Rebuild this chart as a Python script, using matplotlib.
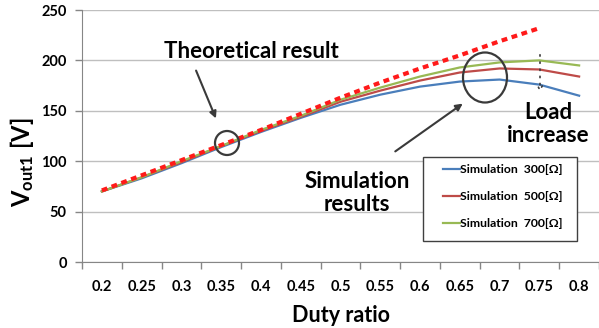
import matplotlib
matplotlib.use("Agg")
import matplotlib.pyplot as plt
from matplotlib.patches import Ellipse, Rectangle

duty = ["0.2", "0.25", "0.3", "0.35", "0.4", "0.45", "0.5", "0.55", "0.6", "0.65", "0.7", "0.75", "0.8"]
theory = [71, 86, 101, 116, 131, 147, 163, 178, 192, 205, 219, 232]
sim300 = [70, 83, 98, 114, 129, 143, 156, 166, 174, 179, 181, 176, 165]
sim500 = [70, 84, 99, 115, 130, 144, 159, 170, 180, 188, 192, 191, 184]
sim700 = [70, 84, 100, 115, 131, 145, 161, 173, 184, 193, 198, 200, 195]
yticks = [0, 50, 100, 150, 200, 250]

FONT = "Lato"
plt.rcParams['font.family'] = [FONT, 'DejaVu Sans']
plt.rcParams['mathtext.fontset'] = 'custom'
plt.rcParams['mathtext.rm'] = FONT + ':bold'
plt.rcParams['mathtext.it'] = FONT + ':bold'
plt.rcParams['mathtext.bf'] = FONT + ':bold'

W, H = 599, 328
fig = plt.figure(figsize=(W / 100, H / 100), dpi=100)
ax = fig.add_axes([82 / W, 1 - 262 / H, (599 - 82) / W, (262 - 10) / H])

x = list(range(len(duty)))
c_blue, c_red, c_green = "#4a7ebb", "#be4b48", "#98b954"
ax.plot(x, sim300, color=c_blue, lw=1.6, label="Simulation  300[Ω]", zorder=3)
ax.plot(x, sim500, color=c_red, lw=1.6, label="Simulation  500[Ω]", zorder=3)
ax.plot(x, sim700, color=c_green, lw=1.6, label="Simulation  700[Ω]", zorder=3)
ax.plot(x[:len(theory)], theory, color="#ff1a1a", lw=3, ls=(0, (1.4, 1.1)), zorder=4)

ax.set_xlim(-0.5, len(duty) - 0.5)
ax.set_ylim(0, 250)
ax.set_yticks(yticks)
ax.set_xticks(x)
ax.set_xticklabels(duty)
ax.set_xticks([i - 0.5 for i in range(len(duty) + 1)], minor=True)
ax.tick_params(axis='x', which='major', length=0, pad=13, labelsize=10.5)
ax.tick_params(axis='x', which='minor', length=5, color="#868686", width=1)
ax.tick_params(axis='y', length=5, color="#868686", width=1, pad=6, labelsize=10.5)
for lab in ax.get_xticklabels() + ax.get_yticklabels():
    lab.set_fontweight('bold')
ax.grid(axis='y', color="#bfbfbf", lw=1)
ax.set_axisbelow(True)
for s in ['top', 'right']:
    ax.spines[s].set_visible(False)
ax.spines['left'].set_color("#868686")
ax.spines['bottom'].set_color("#868686")

ax.set_xlabel("Duty ratio", fontsize=15.5, fontweight='bold', labelpad=8)
fig.text(22 / W, 1 - 162 / H, r"$\rm V_{out1}\ [V]$", rotation=90, fontsize=17,
         ha='center', va='center')

def fx(px):
    return px / W
def fy(py):
    return 1 - py / H

dark = "#3a3a3a"
fig.text(fx(251), fy(52), "Theoretical result", fontsize=16, fontweight='bold',
         ha='center', va='center')
fig.text(fx(357), fy(193), "Simulation\nresults", fontsize=16, fontweight='bold',
         ha='center', va='center', linespacing=1.15)
fig.text(fx(548), fy(124), "Load\nincrease", fontsize=16, fontweight='bold',
         ha='center', va='center', linespacing=1.15)

fig.patches.append(Ellipse((fx(227), fy(143)), 24 / W, 24 / H, transform=fig.transFigure,
                           fill=False, ec=dark, lw=1.6))
fig.patches.append(Ellipse((fx(485), fy(77.5)), 44 / W, 50 / H, transform=fig.transFigure,
                           fill=False, ec=dark, lw=1.6))
ax.annotate("", xy=(fx(217), fy(121)), xytext=(fx(195), fy(68)), xycoords='figure fraction',
            textcoords='figure fraction',
            arrowprops=dict(arrowstyle='-|>', color=dark, lw=1.5, mutation_scale=10))
ax.annotate("", xy=(fx(465), fy(102)), xytext=(fx(393), fy(153)), xycoords='figure fraction',
            textcoords='figure fraction',
            arrowprops=dict(arrowstyle='-|>', color=dark, lw=1.5, mutation_scale=10))
ax.annotate("", xy=(fx(540), fy(95)), xytext=(fx(540), fy(52)), xycoords='figure fraction',
            textcoords='figure fraction',
            arrowprops=dict(arrowstyle='->', color=dark, lw=1.2, ls=(0, (0.8, 3.5)), mutation_scale=8))

# legend frame and entries
frame = Rectangle((fx(423), fy(241)), 154 / W, 84 / H, transform=fig.transFigure,
                  fill=True, fc='white', ec="#404040", lw=1.0, zorder=5, clip_on=False)
ax.add_patch(frame)
leg = ax.legend(loc='upper left', bbox_to_anchor=(fx(443), fy(164)), bbox_transform=fig.transFigure,
                frameon=False, prop={'weight': 'bold', 'size': 8.8},
                handlelength=1.4, handletextpad=0.0, labelspacing=1.3, borderpad=0,
                borderaxespad=0, ncol=1)
leg.set_zorder(6)
for line in leg.get_lines():
    line.set_linewidth(1.6)

fig.savefig("out.png", dpi=100)
